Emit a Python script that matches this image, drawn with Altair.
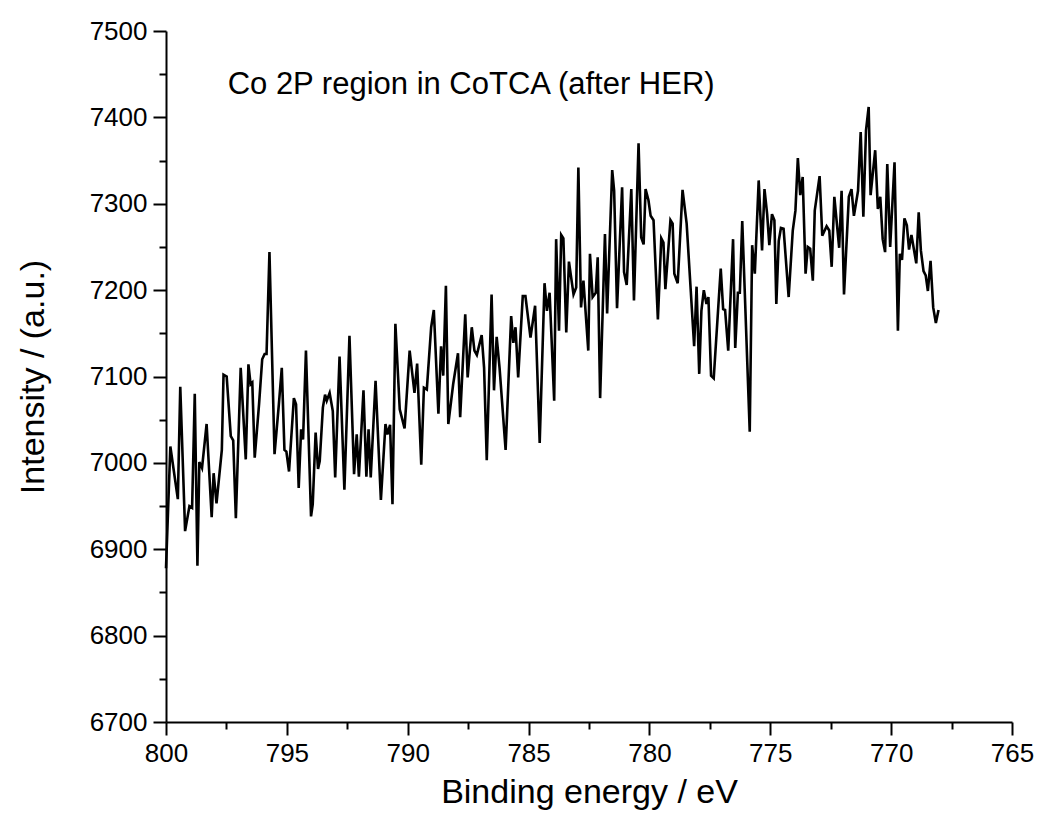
import altair as alt
import pandas as pd

# Binding energy (eV) and intensity (a.u.)
energy = [800.00, 799.82, 799.51, 799.41, 799.21, 799.03, 798.92, 798.81, 798.70, 798.62,
          798.51, 798.32, 798.11, 798.03, 797.91, 797.69, 797.62, 797.49, 797.32, 797.22,
          797.11, 796.91, 796.70, 796.59, 796.50, 796.43, 796.33, 796.15, 796.02, 795.92,
          795.84, 795.72, 795.51, 795.33, 795.21, 795.10, 795.02, 794.91, 794.71, 794.62,
          794.51, 794.41, 794.33, 794.21, 794.00, 793.93, 793.81, 793.71, 793.64, 793.51,
          793.42, 793.35, 793.23, 793.10, 793.00, 792.82, 792.62, 792.41, 792.22, 792.11,
          792.02, 791.83, 791.71, 791.62, 791.53, 791.33, 791.11, 790.92, 790.84, 790.73,
          790.63, 790.51, 790.33, 790.13, 789.92, 789.72, 789.61, 789.44, 789.33, 789.21,
          789.03, 788.92, 788.73, 788.62, 788.53, 788.42, 788.32, 788.12, 787.92, 787.83,
          787.62, 787.52, 787.35, 787.24, 787.14, 786.94, 786.84, 786.73, 786.53, 786.43,
          786.32, 786.20, 785.95, 785.72, 785.63, 785.54, 785.43, 785.24, 785.13, 784.92,
          784.73, 784.54, 784.34, 784.24, 784.13, 783.94, 783.86, 783.74, 783.65, 783.56,
          783.44, 783.33, 783.14, 783.03, 782.94, 782.83, 782.73, 782.53, 782.46, 782.35,
          782.22, 782.14, 782.04, 781.84, 781.75, 781.54, 781.46, 781.34, 781.13, 781.05,
          780.94, 780.75, 780.64, 780.45, 780.34, 780.24, 780.16, 780.04, 779.95, 779.83,
          779.65, 779.51, 779.42, 779.34, 779.13, 779.04, 778.97, 778.83, 778.63, 778.46,
          778.15, 778.05, 777.94, 777.85, 777.75, 777.64, 777.56, 777.45, 777.34, 777.05,
          776.95, 776.87, 776.74, 776.54, 776.45, 776.34, 776.26, 776.16, 775.85, 775.75,
          775.64, 775.48, 775.34, 775.24, 775.13, 775.04, 774.93, 774.83, 774.75, 774.65,
          774.56, 774.45, 774.24, 774.07, 773.96, 773.86, 773.76, 773.66, 773.54, 773.45,
          773.35, 773.24, 773.16, 772.96, 772.85, 772.67, 772.56, 772.46, 772.35, 772.15,
          772.05, 771.95, 771.75, 771.64, 771.54, 771.37, 771.26, 771.15, 771.04, 770.93,
          770.85, 770.66, 770.55, 770.45, 770.35, 770.25, 770.16, 770.04, 769.86, 769.72,
          769.64, 769.55, 769.45, 769.35, 769.26, 769.16, 768.96, 768.86, 768.77, 768.66,
          768.57, 768.48, 768.37, 768.26, 768.15, 768.04]

intensity = [6878, 7019, 6958, 7088, 6921, 6950, 6948, 7080, 6881, 7001,
             6994, 7045, 6937, 6988, 6953, 7015, 7102, 7100, 7031, 7026,
             6936, 7110, 7004, 7114, 7091, 7093, 7006, 7068, 7120, 7126,
             7126, 7244, 7010, 7068, 7110, 7015, 7013, 6990, 7075, 7068,
             6971, 7039, 7027, 7130, 6938, 6952, 7035, 6993, 7002, 7064,
             7079, 7072, 7081, 7060, 6983, 7123, 6969, 7147, 6987, 7033,
             6984, 7084, 6984, 7039, 6983, 7095, 6957, 7045, 7033, 7044,
             6952, 7161, 7062, 7040, 7130, 7081, 7115, 6998, 7087, 7085,
             7157, 7177, 7057, 7135, 7101, 7205, 7045, 7091, 7127, 7053,
             7172, 7099, 7157, 7130, 7125, 7148, 7110, 7003, 7195, 7084,
             7146, 7110, 7015, 7170, 7139, 7157, 7099, 7193, 7193, 7145,
             7182, 7023, 7208, 7176, 7197, 7072, 7259, 7153, 7264, 7260,
             7151, 7233, 7195, 7203, 7342, 7180, 7211, 7130, 7242, 7192,
             7197, 7238, 7075, 7265, 7173, 7339, 7315, 7179, 7319, 7221,
             7206, 7317, 7188, 7370, 7261, 7253, 7317, 7304, 7286, 7281,
             7166, 7260, 7255, 7201, 7281, 7277, 7219, 7208, 7316, 7277,
             7135, 7204, 7103, 7176, 7200, 7184, 7192, 7101, 7098, 7225,
             7178, 7177, 7130, 7259, 7133, 7197, 7197, 7280, 7036, 7252,
             7219, 7327, 7246, 7317, 7288, 7252, 7288, 7281, 7184, 7257,
             7272, 7271, 7192, 7269, 7292, 7353, 7310, 7331, 7219, 7250,
             7248, 7211, 7292, 7332, 7263, 7274, 7269, 7227, 7308, 7249,
             7315, 7195, 7308, 7317, 7286, 7315, 7383, 7285, 7385, 7412,
             7310, 7362, 7294, 7308, 7259, 7244, 7346, 7250, 7348, 7153,
             7242, 7235, 7283, 7275, 7247, 7264, 7231, 7290, 7246, 7222,
             7217, 7199, 7234, 7180, 7162, 7177]

x_major = [800, 795, 790, 785, 780, 775, 770, 765]
x_minor = [797.5, 792.5, 787.5, 782.5, 777.5, 772.5, 767.5]
y_major = [6700, 6800, 6900, 7000, 7100, 7200, 7300, 7400, 7500]
y_minor = [6750, 6850, 6950, 7050, 7150, 7250, 7350, 7450]

label_text = ["Co 2P region in CoTCA (after HER)"]
label_energy = [797.45]
label_intensity = [7437]

FONT = "Liberation Sans"

df = pd.DataFrame({"energy": energy, "intensity": intensity})
df_label = pd.DataFrame({"energy": label_energy, "intensity": label_intensity, "txt": label_text})

xscale = alt.Scale(domain=[765, 800], reverse=True, nice=False, zero=False)
yscale = alt.Scale(domain=[6700, 7500], nice=False, zero=False)

main_x_axis = alt.Axis(orient="bottom", values=x_major, format="d", grid=False,
                       domainColor="black", domainWidth=2, tickColor="black", tickWidth=2,
                       tickSize=13, labelFont=FONT, labelFontSize=26, labelColor="black",
                       labelPadding=5, titleFont=FONT, titleFontSize=34, titleFontWeight="normal",
                       titleColor="black", titlePadding=9, labelFlush=False)
main_y_axis = alt.Axis(orient="left", values=y_major, format="d", grid=False,
                       domainColor="black", domainWidth=2, tickColor="black", tickWidth=2,
                       tickSize=13, labelFont=FONT, labelFontSize=26, labelColor="black",
                       labelPadding=6, titleFont=FONT, titleFontSize=34, titleFontWeight="normal",
                       titleColor="black", titlePadding=39, labelFlush=False)
minor_x_axis = alt.Axis(orient="bottom", values=x_minor, labels=False, domain=False, grid=False,
                        tickColor="black", tickWidth=2, tickSize=7, title="")
minor_y_axis = alt.Axis(orient="left", values=y_minor, labels=False, domain=False, grid=False,
                        tickColor="black", tickWidth=2, tickSize=7, title="")

main = alt.Chart(df).mark_line(color="black", strokeWidth=2.6).encode(
    x=alt.X("energy:Q", scale=xscale, axis=main_x_axis, title="Binding energy / eV"),
    y=alt.Y("intensity:Q", scale=yscale, axis=main_y_axis, title="Intensity / (a.u.)"),
    order=alt.Order("idx:Q"),
).transform_window(idx="row_number()")

minor = alt.Chart(df).mark_line(strokeOpacity=0).encode(
    x=alt.X("energy:Q", scale=xscale, axis=minor_x_axis),
    y=alt.Y("intensity:Q", scale=yscale, axis=minor_y_axis),
)

label = alt.Chart(df_label).mark_text(align="left", baseline="middle", font=FONT,
                                      fontSize=31, color="black").encode(
    x=alt.X("energy:Q", scale=xscale, axis=None),
    y=alt.Y("intensity:Q", scale=yscale, axis=None),
    text="txt:N",
)

chart = alt.layer(main, minor, label).resolve_axis(
    x="independent", y="independent"
).properties(
    width=846, height=691,
    autosize=alt.AutoSizeParams(type="none"),
    padding={"left": 158, "top": 23, "right": 24, "bottom": 93},
    background="white",
).configure_view(stroke=None)

chart.save("out.html", embed_options={"renderer": "svg", "actions": False})
